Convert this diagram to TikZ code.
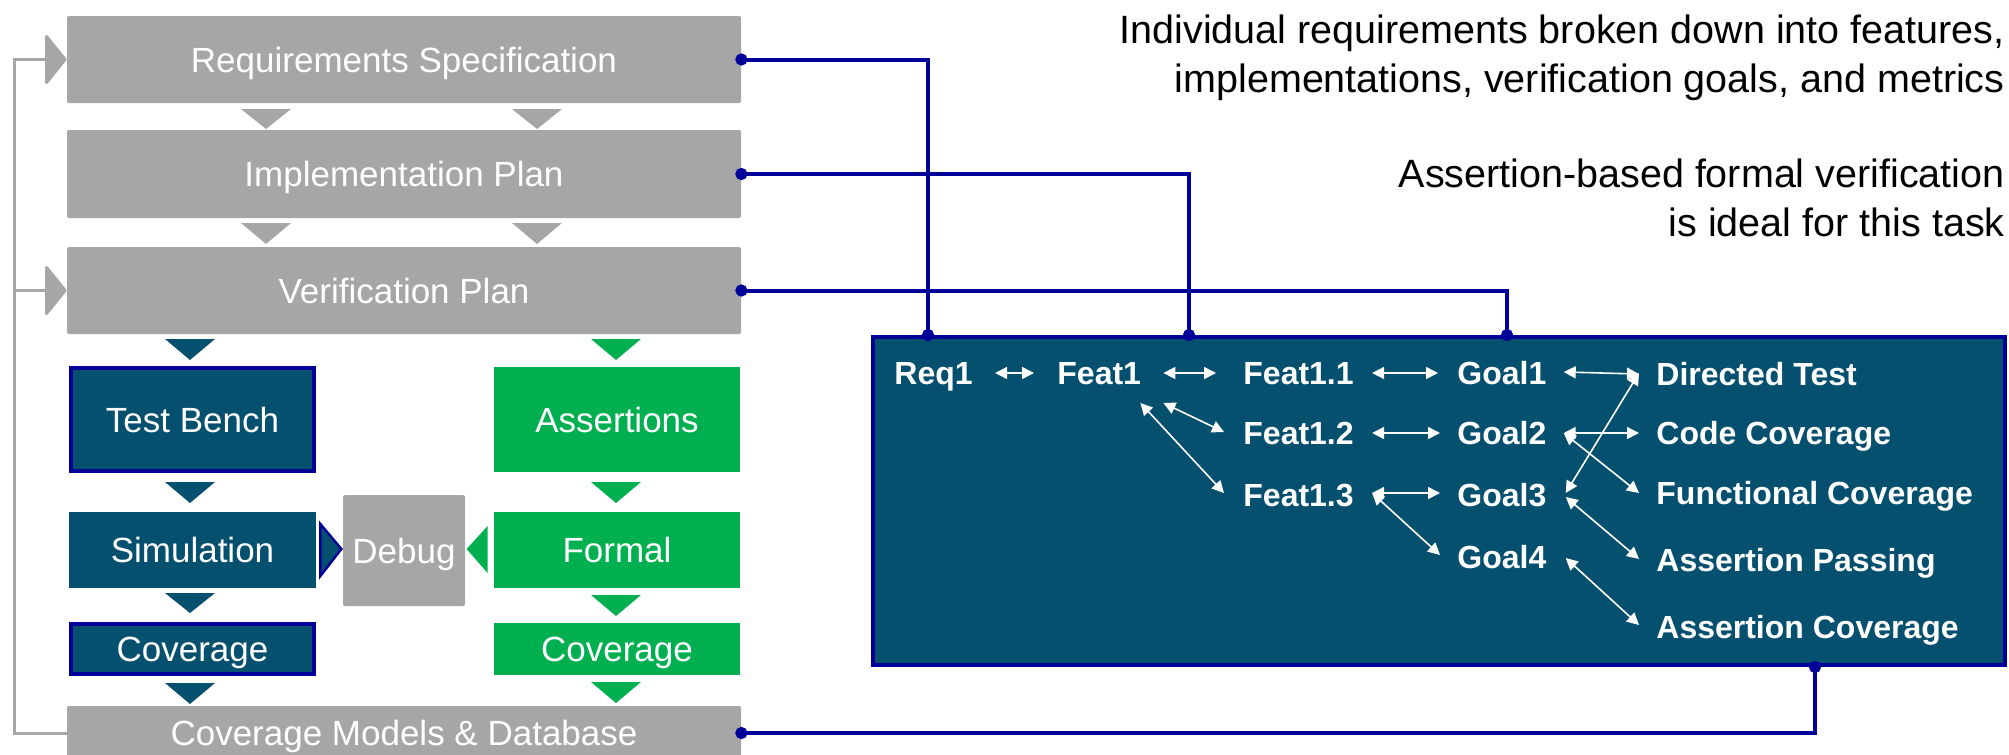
\documentclass[tikz,border=0pt]{standalone}
\usepackage{fontspec}
\setmainfont{Liberation Sans}
\usetikzlibrary{arrows.meta,calc}
\definecolor{boxgray}{RGB}{166,166,166}
\definecolor{dteal}{RGB}{5,79,111}
\definecolor{vgreen}{RGB}{0,176,80}
\definecolor{navy}{RGB}{0,0,153}
\newcommand{\mytri}[4]{\fill[#4] ({#1-25},#2) -- ({#1+25},#2) -- (#1,#3) -- cycle;}
\begin{document}
\begin{tikzpicture}[x=0.5pt,y=-0.5pt,
  base/.style={inner sep=0pt, text=white, font=\fontsize{17.5}{21}\selectfont, text height=12.6pt, text depth=0pt},
  graybox/.style={base, fill=boxgray, rounded corners=1pt},
  tealbox/.style={base, fill=dteal},
  navybox/.style={tealbox, draw=navy, line width=2pt},
  greenbox/.style={base, fill=vgreen},
  lbl/.style={inner sep=0pt, text=white, anchor=west, font=\bfseries\fontsize{16}{19}\selectfont, text height=11.5pt, text depth=0pt},
  wa/.style={draw=white, line width=0.8pt, {Triangle[length=6pt,width=6pt]}-{Triangle[length=6pt,width=6pt]}},
  conn/.style={draw=navy, line width=2pt, {Circle[length=6pt]}-{Circle[length=6pt]}, shorten <=-3pt, shorten >=-3pt},
  fb/.style={draw=boxgray, line width=1.5pt, -{Triangle[length=11pt,width=27pt,round]}},
  note/.style={inner sep=0pt, anchor=north east, align=right, font=\fontsize{19.75}{24.5}\selectfont}
]
\useasboundingbox (0,0) rectangle (2009,755);

% left flow
\node[graybox, minimum width=337pt, minimum height=43.5pt] (req) at (404,59.5) {Requirements Specification};
\node[graybox, minimum width=337pt, minimum height=44pt] (impl) at (404,174) {Implementation Plan};
\node[graybox, minimum width=337pt, minimum height=43.5pt] (verif) at (404,290.5) {Verification Plan};
\node[navybox, minimum width=121.5pt, minimum height=51.5pt] (tb) at (192.5,419.5) {Test Bench};
\node[greenbox, minimum width=123pt, minimum height=52.5pt] (asrt) at (617,419.5) {Assertions};
\node[tealbox, minimum width=123.5pt, minimum height=38pt] (sim) at (192.5,550) {Simulation};
\node[graybox, minimum width=61pt, minimum height=55.5pt] (dbg) at (404,550.5) {Debug};
\node[greenbox, minimum width=123pt, minimum height=38pt] (formal) at (617,550) {Formal};
\node[navybox, minimum width=121.5pt, minimum height=25pt] (cov1) at (192.5,649) {Coverage};
\node[greenbox, minimum width=123pt, minimum height=26pt] (cov2) at (617,649) {Coverage};
\node[graybox, minimum width=337pt, minimum height=27pt] (covdb) at (404,733) {Coverage Models \& Database};

% flow chevrons
\mytri{266}{109}{129}{boxgray} \mytri{537}{109}{129}{boxgray}
\mytri{266}{223}{244}{boxgray} \mytri{537}{223}{244}{boxgray}
\mytri{190}{339}{360}{dteal} \mytri{616}{339}{360}{vgreen}
\mytri{190}{482}{503}{dteal} \mytri{616}{482}{503}{vgreen}
\mytri{190}{593}{613}{dteal} \mytri{616}{595}{616}{vgreen}
\mytri{190}{683}{704}{dteal} \mytri{616}{682}{703}{vgreen}

% debug side arrows
\filldraw[fill=dteal, draw=navy, line width=1.2pt, line join=miter] ($(sim.east)+(4,-26)$) -- ($(sim.east)+(25,-1)$) -- ($(sim.east)+(4,26)$) -- cycle;
\fill[vgreen] ($(formal.west)+(-6,-24)$) -- ($(formal.west)+(-27,-1)$) -- ($(formal.west)+(-6,23)$) -- cycle;

% feedback
\draw[fb] (covdb.west) -| ([xshift=-26pt]req.west) -- (req.west);
\draw[fb] ([xshift=-26pt]verif.west) -- (verif.west);

% notes
\node[note] (n1) at (2005,14) {Individual requirements broken down into features,\\implementations, verification goals, and metrics};
\node[note] (n2) at (2005,158.5) {Assertion-based formal verification\\is ideal for this task};

% right box
\node[draw=navy, fill=dteal, line width=2pt, minimum width=566pt, minimum height=164pt, inner sep=0pt] (rbox) at (1439,501) {};

\node[lbl] (req1) at (894,373) {Req1};
\node[lbl] (feat1) at (1057,373) {Feat1};
\node[lbl] (feat11) at (1243,373) {Feat1.1};
\node[lbl] (feat12) at (1243,433) {Feat1.2};
\node[lbl] (feat13) at (1243,495) {Feat1.3};
\node[lbl] (goal1) at (1457,373) {Goal1};
\node[lbl] (goal2) at (1457,433) {Goal2};
\node[lbl] (goal3) at (1457,495) {Goal3};
\node[lbl] (goal4) at (1457,557) {Goal4};
\node[lbl] (dt) at (1656,374) {Directed Test};
\node[lbl] (cc) at (1656,433) {Code Coverage};
\node[lbl] (fc) at (1656,493) {Functional Coverage};
\node[lbl] (ap) at (1656,560) {Assertion Passing};
\node[lbl] (ac) at (1656,627) {Assertion Coverage};

\draw[wa] ([shift={(22,0)}]req1.east) -- ([shift={(-23,0)}]feat1.west);
\draw[wa] ([shift={(22,0)}]feat1.east) -- ([shift={(-27,0)}]feat11.west);
\draw[wa] ([shift={(18,0)}]feat11.east) -- ([shift={(-19,0)}]goal1.west);
\draw[wa] ([shift={(18,0)}]feat12.east) -- ([shift={(-17,0)}]goal2.west);
\draw[wa] ([shift={(18,-2)}]feat13.east) -- ([shift={(-17,-2)}]goal3.west);
\draw[wa] ([shift={(22,30)}]feat1.east) -- ([shift={(-19,-1)}]feat12.west);
\draw[wa] ([shift={(-1,30)}]feat1.east) -- ([shift={(-19,-2)}]feat13.west);
\draw[wa] ([shift={(18,-2)}]feat13.east) -- ([shift={(-17,-2)}]goal4.west);
\draw[wa] ([shift={(17,-1)}]goal1.east) -- ([shift={(-17,0)}]dt.west);
\draw[wa] ([shift={(17,0)}]goal2.east) -- ([shift={(-17,0)}]cc.west);
\draw[wa] ([shift={(17,0)}]goal2.east) -- ([shift={(-17,0)}]fc.west);
\draw[wa] ([shift={(19,-2)}]goal3.east) -- ([shift={(-17,-1)}]dt.west);
\draw[wa] ([shift={(19,2)}]goal3.east) -- ([shift={(-17,-1)}]ap.west);
\draw[wa] ([shift={(19,1)}]goal4.east) -- ([shift={(-17,-2)}]ac.west);

% connectors
\draw[conn] (req.east) -| ($(rbox.north west)+(57,0)$);
\draw[conn] (impl.east) -| ($(rbox.north west)+(318,0)$);
\draw[conn] (verif.east) -| ($(rbox.north west)+(636,0)$);
\draw[conn] (covdb.east) -| ($(rbox.south west)+(944,0)$);
\end{tikzpicture}
\end{document}
